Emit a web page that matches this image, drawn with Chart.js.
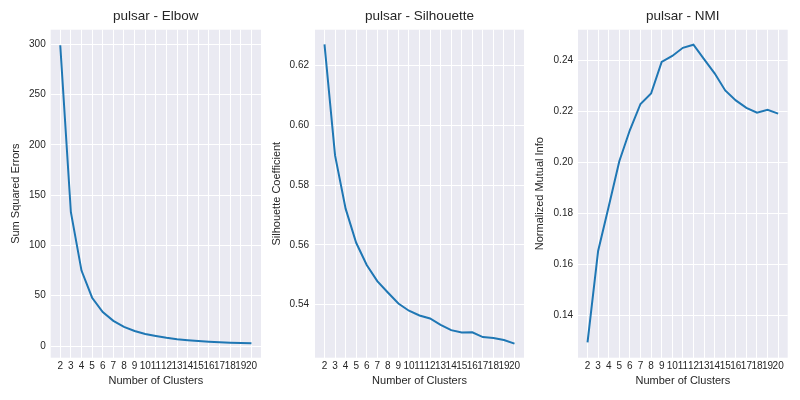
<!DOCTYPE html>
<html>
<head>
<meta charset="utf-8">
<script src="https://cdn.jsdelivr.net/npm/chart.js@4"></script>
<style>
	html, body { margin: 0; padding: 0; background: #fff; }
	#wrap { position: relative; width: 800px; height: 400px; }
	#wrap canvas { position: absolute; left: 0; top: 0; }
</style>
</head>
<body>
<div id="wrap">
	<canvas id="chart-elbow" width="800" height="400"></canvas>
	<canvas id="chart-sil" width="800" height="400"></canvas>
	<canvas id="chart-nmi" width="800" height="400"></canvas>
</div>
<script>
const clusters = [2, 3, 4, 5, 6, 7, 8, 9, 10, 11, 12, 13, 14, 15, 16, 17, 18, 19, 20];
const elbowSSE = [299, 133, 75, 48, 33.8, 25, 19, 15, 12, 10, 8.2, 6.8, 5.8, 5, 4.3, 3.8, 3.3, 3, 2.7];
const silhouette = [0.6270, 0.5899, 0.5721, 0.5607, 0.5533, 0.5479, 0.5441, 0.5404, 0.5380, 0.5364,
	0.5354, 0.5333, 0.5315, 0.5307, 0.5308, 0.5292, 0.5289, 0.5282, 0.5270];
const nmi = [0.1294, 0.1652, 0.1826, 0.2004, 0.2126, 0.2228, 0.2269, 0.2393, 0.2416, 0.2448,
	0.2460, 0.2404, 0.2348, 0.2281, 0.2242, 0.2213, 0.2194, 0.2205, 0.2190];

const elbowTicks = [0, 50, 100, 150, 200, 250, 300];
const silTicks = [0.54, 0.56, 0.58, 0.60, 0.62];
const nmiTicks = [0.14, 0.16, 0.18, 0.20, 0.22, 0.24];

const FONT = "'Liberation Sans', Arial, sans-serif";
const TEXT = '#262626';

// grey plot face like seaborn darkgrid
const facePlugin = {
	id: 'face',
	beforeDraw(chart) {
		const { ctx, chartArea: a } = chart;
		ctx.save();
		ctx.fillStyle = '#eaeaf2';
		ctx.fillRect(a.left, a.top, a.right - a.left, a.bottom - a.top);
		ctx.restore();
	}
};

function makePanel(id, cfg) {
	const canvas = document.getElementById(id);
	new Chart(canvas.getContext('2d'), {
		type: 'line',
		data: {
			datasets: [{
				data: clusters.map((c, i) => ({ x: c, y: cfg.values[i] })),
				borderColor: '#1f77b4',
				borderWidth: 2,
				pointRadius: 0,
				tension: 0,
				fill: false
			}]
		},
		options: {
			responsive: false,
			animation: false,
			events: [],
			layout: { padding: { left: cfg.padLeft, right: cfg.padRight, top: 0, bottom: 0 } },
			plugins: {
				legend: { display: false },
				tooltip: { enabled: false },
				title: {
					display: true,
					text: cfg.title,
					fullSize: false,
					color: TEXT,
					font: { family: FONT, size: 13.5, weight: 'normal' },
					padding: { top: 8, bottom: 5.5 }
				}
			},
			scales: {
				x: {
					type: 'linear',
					min: 1.1,
					max: 20.9,
					afterBuildTicks: (axis) => { axis.ticks = clusters.map((v) => ({ value: v })); },
					afterFit: (axis) => { axis.height = 42.3; },
					grid: { color: '#ffffff', lineWidth: 1, drawTicks: false },
					border: { display: false },
					ticks: {
						color: TEXT,
						font: { family: FONT, size: 10 },
						padding: 3,
						maxRotation: 0,
						autoSkip: false
					},
					title: {
						display: true,
						text: 'Number of Clusters',
						color: TEXT,
						font: { family: FONT, size: 11 },
						padding: { top: 0, bottom: 12 }
					}
				},
				y: {
					type: 'linear',
					min: cfg.yMin,
					max: cfg.yMax,
					afterBuildTicks: (axis) => { axis.ticks = cfg.ticks.map((v) => ({ value: v })); },
					afterFit: (axis) => { axis.width = cfg.axisWidth; },
					grid: { color: '#ffffff', lineWidth: 1, drawTicks: false },
					border: { display: false },
					ticks: {
						color: TEXT,
						font: { family: FONT, size: 10 },
						padding: cfg.tickPad,
						callback: (v) => cfg.fmt(v)
					},
					title: {
						display: true,
						text: cfg.yTitle,
						color: TEXT,
						font: { family: FONT, size: 11 },
						padding: { top: cfg.titlePad, bottom: 0 }
					}
				}
			}
		},
		plugins: [facePlugin]
	});
}

makePanel('chart-elbow', {
	title: 'pulsar - Elbow',
	yTitle: 'Sum Squared Errors',
	values: elbowSSE,
	ticks: elbowTicks,
	yMin: -11.6,
	yMax: 314.4,
	fmt: (v) => String(v),
	padLeft: 0,
	padRight: 539,
	axisWidth: 50.7,
	tickPad: 5,
	titlePad: 9.1
});

makePanel('chart-sil', {
	title: 'pulsar - Silhouette',
	yTitle: 'Silhouette Coefficient',
	values: silhouette,
	ticks: silTicks,
	yMin: 0.5223,
	yMax: 0.6319,
	fmt: (v) => v.toFixed(2),
	padLeft: 266,
	padRight: 276,
	axisWidth: 49,
	tickPad: 6,
	titlePad: 4.1
});

makePanel('chart-nmi', {
	title: 'pulsar - NMI',
	yTitle: 'Normalized Mutual Info',
	values: nmi,
	ticks: nmiTicks,
	yMin: 0.1234,
	yMax: 0.2519,
	fmt: (v) => v.toFixed(2),
	padLeft: 532,
	padRight: 12.3,
	axisWidth: 46,
	tickPad: 5,
	titlePad: 0.9
});
</script>
</body>
</html>
